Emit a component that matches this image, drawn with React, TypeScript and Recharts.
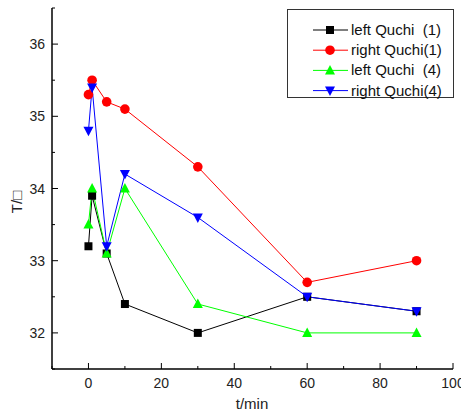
import { LineChart, Line, XAxis, YAxis } from 'recharts';

// sampling times (min)
const times = [0, 1, 5, 10, 30, 60, 90];

// skin temperature per point
const leftQuchi1 = [33.2, 33.9, 33.1, 32.4, 32.0, 32.5, 32.3];
const rightQuchi1 = [35.3, 35.5, 35.2, 35.1, 34.3, 32.7, 33.0];
const leftQuchi4 = [33.5, 34.0, 33.1, 34.0, 32.4, 32.0, 32.0];
const rightQuchi4 = [34.8, 35.4, 33.2, 34.2, 33.6, 32.5, 32.3];

const xTicks = [-10, 0, 10, 20, 30, 40, 50, 60, 70, 80, 90, 100];
const yTicks = [31.5, 32, 32.5, 33, 33.5, 34, 34.5, 35, 35.5, 36, 36.5];

type Shape = 'square' | 'circle' | 'up' | 'down';

const SERIES: { key: string; name: string; color: string; shape: Shape; values: number[] }[] = [
  { key: 'l1', name: 'left Quchi  (1)', color: '#000000', shape: 'square', values: leftQuchi1 },
  { key: 'r1', name: 'right Quchi(1)', color: '#ff0000', shape: 'circle', values: rightQuchi1 },
  { key: 'l4', name: 'left Quchi  (4)', color: '#00ff00', shape: 'up', values: leftQuchi4 },
  { key: 'r4', name: 'right Quchi(4)', color: '#0000ff', shape: 'down', values: rightQuchi4 },
];

const data = times.map((t, i) => {
  const row: Record<string, number> = { t };
  SERIES.forEach((s) => (row[s.key] = s.values[i]));
  return row;
});

const FONT = '"Liberation Sans", Arial, sans-serif';
const W = 461;
const H = 416;
const LEFT = 52;
const RIGHT = 453;
const TOP = 8;
const BOTTOM = 369;

function Marker({ shape, cx, cy, color }: { shape: Shape; cx: number; cy: number; color: string }) {
  if (shape === 'square') return <rect x={cx - 4} y={cy - 4} width={8} height={8} fill={color} />;
  if (shape === 'circle') return <circle cx={cx} cy={cy} r={4.8} fill={color} />;
  if (shape === 'up')
    return <path d={`M${cx},${cy - 5.5} L${cx + 5},${cy + 4} L${cx - 5},${cy + 4} Z`} fill={color} />;
  return <path d={`M${cx},${cy + 5.5} L${cx + 5},${cy - 4} L${cx - 5},${cy - 4} Z`} fill={color} />;
}

function BottomTick(props: any) {
  const v = props.payload.value;
  const x = props.x;
  const major = v % 20 === 0;
  return (
    <g>
      <line x1={x} x2={x} y1={BOTTOM} y2={BOTTOM - (major ? 6 : 3)} stroke="#000" />
      {major && (
        <text x={x} y={BOTTOM + 19} textAnchor="middle" fontSize={14} fontFamily={FONT} fill="#222">
          {v}
        </text>
      )}
    </g>
  );
}

function TopTick(props: any) {
  const x = props.x;
  const major = props.payload.value % 20 === 0;
  return <line x1={x} x2={x} y1={TOP} y2={TOP + (major ? 3 : 2)} stroke="#999" />;
}

function LeftTick(props: any) {
  const v = props.payload.value;
  const y = props.y;
  const major = Number.isInteger(v);
  return (
    <g>
      <line x1={LEFT} x2={LEFT + (major ? 6 : 3)} y1={y} y2={y} stroke="#000" />
      {major && (
        <text x={LEFT - 7} y={y + 5} textAnchor="end" fontSize={14} fontFamily={FONT} fill="#222">
          {v}
        </text>
      )}
    </g>
  );
}

function RightTick(props: any) {
  const y = props.y;
  return <line x1={RIGHT} x2={RIGHT - 3} y1={y} y2={y} stroke="#000" />;
}

function LegendBox() {
  return (
    <div
      style={{
        position: 'absolute',
        left: 287,
        top: 9,
        width: 167,
        height: 89,
        border: '1px solid #333',
        background: '#fff',
        boxSizing: 'border-box',
      }}
    >
      <svg width={167} height={89}>
        {SERIES.map((s, i) => {
          const y = 20 + i * 20.2;
          return (
            <g key={s.key}>
              <line x1={25} x2={60} y1={y} y2={y} stroke={s.color} />
              <Marker shape={s.shape} cx={42} cy={y} color={s.color} />
              <text
                x={63}
                y={y + 5}
                fontSize={15}
                fontFamily={FONT}
                fill="#111"
                style={{ whiteSpace: 'pre' }}
              >
                {s.name}
              </text>
            </g>
          );
        })}
      </svg>
    </div>
  );
}

export default function App() {
  return (
    <div style={{ position: 'absolute', left: 0, top: 0, width: W, height: H, background: '#fff' }}>
      <LineChart
        width={W}
        height={H}
        data={data}
        margin={{ top: TOP, right: W - RIGHT, bottom: H - BOTTOM - 30, left: LEFT - 40 }}
      >
        <XAxis
          dataKey="t"
          type="number"
          domain={[-10, 100]}
          ticks={xTicks}
          tick={<BottomTick />}
          tickLine={false}
          axisLine={{ stroke: '#000', strokeWidth: 1.5 }}
          height={30}
          interval={0}
          allowDataOverflow
          label={{
            content: () => (
              <text x={252} y={409} textAnchor="middle" fontSize={15} fontFamily={FONT} fill="#222">
                t/min
              </text>
            ),
          }}
        />
        <XAxis
          xAxisId="top"
          orientation="top"
          dataKey="t"
          type="number"
          domain={[-10, 100]}
          ticks={xTicks}
          tick={<TopTick />}
          tickLine={false}
          axisLine={{ stroke: '#000' }}
          height={0}
          interval={0}
        />
        <YAxis
          type="number"
          domain={[31.5, 36.5]}
          ticks={yTicks}
          tick={<LeftTick />}
          tickLine={false}
          axisLine={{ stroke: '#000', strokeWidth: 1.5 }}
          width={40}
          interval={0}
          allowDataOverflow
          label={{
            content: () => (
              <text
                x={22}
                y={202}
                transform="rotate(-90 22 202)"
                textAnchor="middle"
                fontSize={15}
                fontFamily={FONT}
                fill="#222"
              >
                T/{'\u25A1'}
              </text>
            ),
          }}
        />
        <YAxis
          yAxisId="right"
          orientation="right"
          type="number"
          domain={[31.5, 36.5]}
          ticks={yTicks}
          tick={<RightTick />}
          tickLine={false}
          axisLine={{ stroke: '#000', strokeWidth: 1.5 }}
          width={0}
          interval={0}
        />
        {SERIES.map((s) => (
          <Line
            key={s.key}
            dataKey={s.key}
            name={s.name}
            type="linear"
            stroke={s.color}
            strokeWidth={1}
            isAnimationActive={false}
            dot={(p: any) => <Marker key={p.index} shape={s.shape} cx={p.cx} cy={p.cy} color={s.color} />}
            activeDot={false}
          />
        ))}
      </LineChart>
      <LegendBox />
    </div>
  );
}
